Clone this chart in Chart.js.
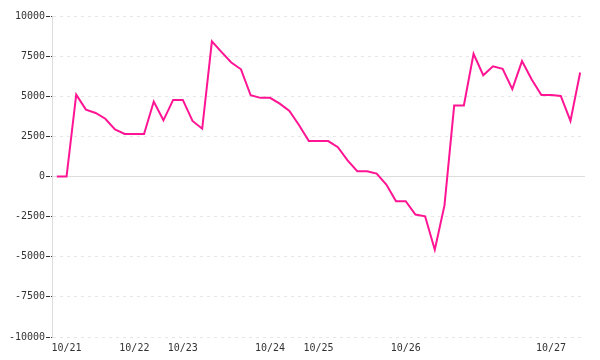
<!DOCTYPE html>
<html>
<head>
<meta charset="utf-8">
<script src="https://cdn.jsdelivr.net/npm/chart.js@4.4.1/dist/chart.umd.min.js"></script>
<style>
html,body{margin:0;padding:0;background:#fff;}
#wrap{width:600px;height:360px;}
</style>
</head>
<body>
<div id="wrap"><canvas id="c" width="600" height="360"></canvas></div>
<script>
// category labels (only day boundaries carry text)
const labels = [
  "", "10/21", "", "", "", "", "", "", "10/22", "", "",
  "", "", "10/23", "", "", "", "", "", "", "",
  "", "10/24", "", "", "", "", "10/25", "", "", "",
  "", "", "", "", "", "10/26", "", "", "", "",
  "", "", "", "", "", "", "", "", "", "",
  "10/27", "", "", ""
];
const values = [
  0, 0, 5100, 4170, 3960, 3600, 2940, 2650, 2650, 2650,
  4670, 3500, 4770, 4770, 3460, 2980, 8420, 7750, 7100, 6680,
  5060, 4900, 4900, 4540, 4080, 3190, 2210, 2210, 2210, 1830,
  1000, 330, 330, 180, -500, -1540, -1540, -2370, -2480, -4560,
  -1800, 4420, 4420, 7640, 6310, 6870, 6710, 5440, 7190, 6040,
  5080, 5080, 5020, 3460, 6480
];
const yTicks = [-10000, -7500, -5000, -2500, 0, 2500, 5000, 7500, 10000];

const font = {family: "'DejaVu Sans Mono', monospace", size: 10};
new Chart(document.getElementById('c'), {
  type: 'line',
  data: {
    labels: labels,
    datasets: [{
      data: values,
      borderColor: '#ff1493',
      borderWidth: 2,
      pointRadius: 0,
      tension: 0,
      fill: false
    }]
  },
  options: {
    responsive: false,
    animation: false,
    layout: {padding: {top: 16, right: 15, left: 0, bottom: 0}},
    plugins: {legend: {display: false}, tooltip: {enabled: false}},
    scales: {
      x: {
        offset: true,
        grid: {display: false},
        border: {display: false},
        afterFit: (s) => { s.height = 23; },
        ticks: {autoSkip: false, maxRotation: 0, color: '#333', font: font, padding: -3}
      },
      y: {
        min: yTicks[0],
        max: yTicks[yTicks.length - 1],
        afterBuildTicks: (s) => { s.ticks = yTicks.map(v => ({value: v})); },
        afterFit: (s) => { s.width = 52; },
        grid: {
          color: (c) => c.tick && c.tick.value === 0 ? '#dddddd' : '#e6e6e6',
          tickColor: '#333',
          tickLength: 6,
          tickBorderDash: [4, 1],
          drawTicks: true
        },
        border: {
          display: true,
          color: '#dddddd',
          width: 1,
          dash: (c) => c.tick && c.tick.value === 0 ? [] : [3, 4]
        },
        ticks: {color: '#333', font: font, padding: 1, callback: (v) => String(v)}
      }
    }
  }
});
</script>
</body>
</html>
